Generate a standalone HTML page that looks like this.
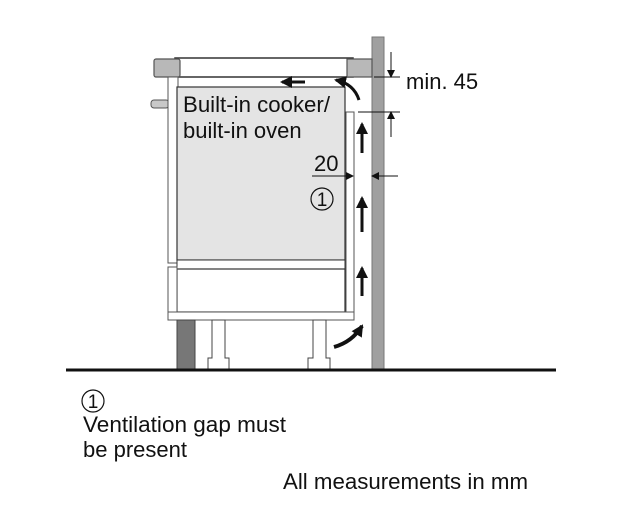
<!DOCTYPE html>
<html><head><style>
html,body{margin:0;padding:0;background:#fff;}
svg{display:block;}
text{font-family:"Liberation Sans",sans-serif;fill:#111;}
</style></head><body>
<svg width="644" height="530" viewBox="0 0 644 530" xmlns="http://www.w3.org/2000/svg">
<defs>
<marker id="ah" markerWidth="8" markerHeight="8" refX="7" refY="4" orient="auto" markerUnits="userSpaceOnUse"><path d="M0,0 L8,4 L0,8 z" fill="#111"/></marker>
<marker id="ahb" markerWidth="12" markerHeight="12" refX="10" refY="6" orient="auto" markerUnits="userSpaceOnUse"><path d="M0,0 L12,6 L0,12 z" fill="#111"/></marker>
</defs>
<rect x="372" y="37" width="12" height="333" fill="#a0a0a0" stroke="#777" stroke-width="1"/>
<rect x="175" y="58" width="178" height="19" fill="#fff" stroke="#333" stroke-width="1.5"/>
<rect x="154" y="59" width="26" height="18" rx="2" fill="#b8b8b8" stroke="#555" stroke-width="1.2"/>
<rect x="347" y="59" width="25" height="18" fill="#b8b8b8" stroke="#555" stroke-width="1.2"/>
<rect x="151" y="100" width="18" height="8" rx="3" fill="#c8c8c8" stroke="#555"/>
<rect x="168" y="77" width="10" height="186" fill="#fff" stroke="#555"/>
<rect x="177" y="87" width="168" height="173" fill="#e4e4e4" stroke="#333" stroke-width="1.2"/>
<rect x="346" y="112" width="8" height="200" fill="#fff" stroke="#555"/>
<rect x="177" y="260" width="168" height="9" fill="#fff" stroke="#333"/>
<rect x="177" y="269" width="168" height="43" fill="#fff" stroke="#333" stroke-width="1.2"/>
<rect x="168" y="267" width="9" height="53" fill="#fff" stroke="#555"/>
<rect x="168" y="312" width="186" height="8" fill="#fff" stroke="#555"/>
<rect x="177" y="320" width="18" height="50" fill="#777" stroke="#444"/>
<path d="M212,320 V358 H208 V370 H229 V358 H225 V320 Z" fill="#fff" stroke="#444"/>
<path d="M313,320 V358 H308 V370 H330 V358 H326 V320 Z" fill="#fff" stroke="#444"/>
<line x1="66" y1="370" x2="556" y2="370" stroke="#111" stroke-width="3"/>
<line x1="374" y1="77" x2="400" y2="77" stroke="#111"/>
<line x1="358" y1="112" x2="400" y2="112" stroke="#111"/>
<line x1="391" y1="52" x2="391" y2="77" stroke="#111" marker-end="url(#ah)"/>
<line x1="391" y1="137" x2="391" y2="112" stroke="#111" marker-end="url(#ah)"/>
<line x1="312" y1="176" x2="353" y2="176" stroke="#111" marker-end="url(#ah)"/>
<line x1="398" y1="176" x2="372" y2="176" stroke="#111" marker-end="url(#ah)"/>
<line x1="305" y1="82" x2="282" y2="82" stroke="#111" stroke-width="3" marker-end="url(#ahb)"/>
<path d="M359,100 Q354,84 336,80" fill="none" stroke="#111" stroke-width="3" marker-end="url(#ahb)"/>
<line x1="362" y1="153" x2="362" y2="124" stroke="#111" stroke-width="3" marker-end="url(#ahb)"/>
<line x1="362" y1="232" x2="362" y2="198" stroke="#111" stroke-width="3" marker-end="url(#ahb)"/>
<line x1="362" y1="296" x2="362" y2="268" stroke="#111" stroke-width="3" marker-end="url(#ahb)"/>
<path d="M334,347 Q352,342 362,326" fill="none" stroke="#111" stroke-width="4" marker-end="url(#ahb)"/>
<text x="183" y="112" font-size="22" textLength="147" lengthAdjust="spacingAndGlyphs">Built-in cooker/</text>
<text x="183" y="138" font-size="22">built-in oven</text>
<text x="314" y="171" font-size="22">20</text>
<circle cx="322" cy="199" r="11" fill="none" stroke="#111" stroke-width="1.2"/>
<text x="322" y="206" font-size="19" text-anchor="middle">1</text>
<text x="406" y="89" font-size="22">min. 45</text>
<circle cx="93" cy="401" r="11" fill="none" stroke="#111" stroke-width="1.2"/>
<text x="93" y="408" font-size="19" text-anchor="middle">1</text>
<text x="83" y="432" font-size="22" textLength="203" lengthAdjust="spacingAndGlyphs">Ventilation gap must</text>
<text x="83" y="457" font-size="22">be present</text>
<text x="283" y="489" font-size="22" textLength="245" lengthAdjust="spacingAndGlyphs">All measurements in mm</text>
</svg>
</body></html>
